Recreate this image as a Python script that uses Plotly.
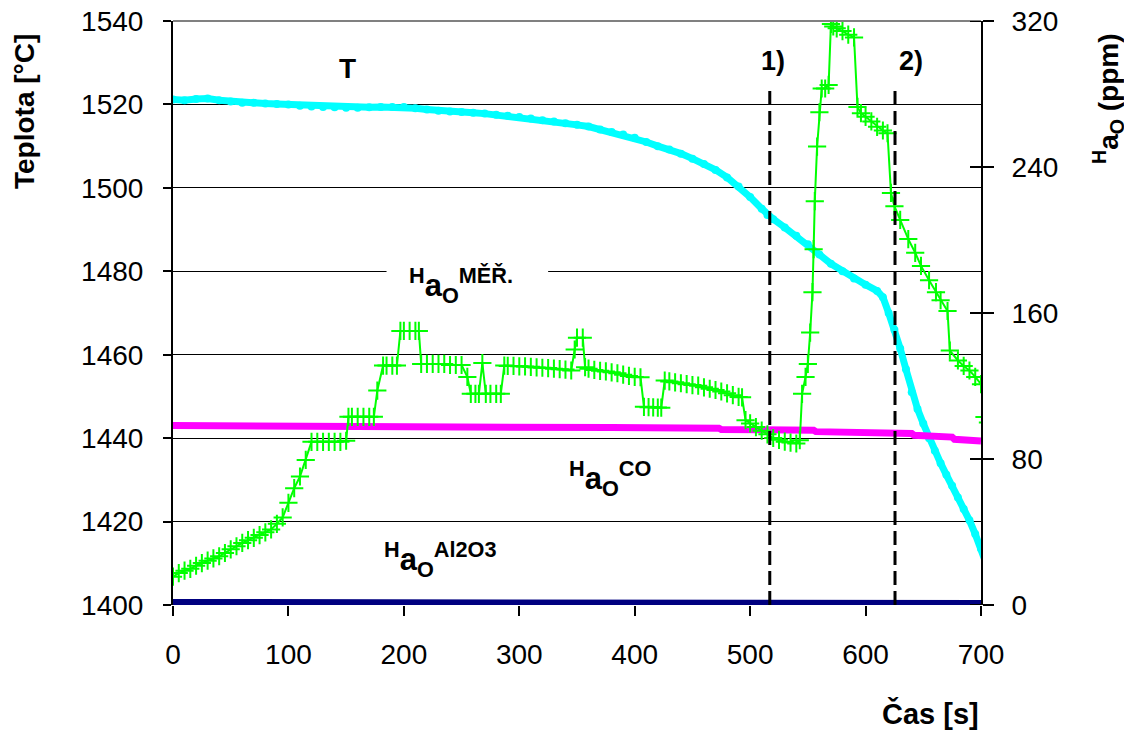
import plotly.graph_objects as go

# ---------------- data ----------------
# Temperature T [°C] (left axis)
t_time = [0, 10, 20, 30, 40, 50, 60, 70, 80, 90, 100, 110, 120, 130, 140, 150, 160, 170, 180, 190,
          200, 210, 220, 230, 240, 250, 260, 270, 280, 290, 300, 310, 320, 330, 340, 350, 360, 370,
          380, 390, 400, 410, 420, 430, 440, 450, 460, 470, 480, 490, 500, 510, 515, 520, 530, 540,
          550, 560, 570, 580, 590, 600, 610, 615, 620, 625, 630, 635, 640, 645, 650, 655, 660, 665,
          670, 675, 680, 685, 690, 695, 700, 704]
t_temp = [1521.2, 1521.0, 1521.3, 1521.4, 1521.0, 1520.7, 1520.4, 1520.4, 1520.2, 1520.1, 1520.0,
          1519.7, 1519.5, 1519.4, 1519.3, 1519.2, 1519.2, 1519.3, 1519.4, 1519.4, 1519.4, 1519.1,
          1518.8, 1518.5, 1518.3, 1518.2, 1518.0, 1517.8, 1517.5, 1517.3, 1517.0, 1516.6, 1516.2,
          1515.9, 1515.5, 1515.1, 1514.7, 1514.0, 1513.4, 1512.8, 1512.0, 1511.0, 1510.0, 1509.2,
          1508.2, 1507.0, 1505.7, 1504.3, 1502.5, 1500.3, 1497.8, 1495.0, 1493.5, 1492.5, 1490.5,
          1488.5, 1486.5, 1484.0, 1481.8, 1480.0, 1478.3, 1476.8, 1475.3, 1473.8, 1470.0, 1466.0,
          1461.5, 1456.5, 1451.0, 1447.0, 1443.5, 1440.0, 1437.0, 1434.0, 1431.2, 1428.6, 1425.8,
          1423.0, 1420.3, 1417.0, 1413.5, 1410.3]

# measured oxygen activity H_aO MĚŘ. [ppm] (right axis)
m_time = [0, 5, 10, 15, 20, 25, 30, 35, 40, 45, 50, 55, 60, 65, 70, 75, 80, 85, 90, 95, 100, 105,
          110, 115, 120, 125, 130, 135, 140, 145, 150, 152, 155, 160, 165, 170, 174, 177, 182, 185,
          190, 194, 197, 200, 205, 210, 213, 215, 220, 225, 230, 235, 240, 245, 250, 255, 258, 262,
          265, 268, 271, 275, 280, 284, 287, 290, 295, 300, 305, 310, 315, 320, 325, 330, 335, 340,
          345, 348, 350, 355, 357, 360, 365, 370, 375, 380, 385, 390, 395, 400, 405, 408, 412, 416,
          420, 423, 426, 430, 435, 440, 445, 450, 455, 460, 465, 470, 475, 480, 485, 490, 493, 496,
          500, 505, 510, 515, 520, 525, 530, 535, 540, 543, 545, 548, 550, 552, 554, 555, 556, 558,
          560, 562, 565, 568, 570, 572, 575, 580, 585, 590, 593, 596, 600, 605, 610, 615, 619, 622,
          625, 630, 637, 643, 648, 655, 661, 665, 671, 673, 680, 685, 690, 695, 700, 703, 706]
m_ppm = [15.5, 17.5, 18.8, 19.8, 21.5, 23.0, 24.3, 25.5, 26.7, 28.5, 30.5, 32.2, 34.0, 35.5, 36.8,
         38.3, 39.8, 41.4, 44.5, 48.0, 56.0, 64.0, 70.4, 79.5, 89.4, 89.4, 89.4, 89.4, 89.4, 89.4,
         90.0, 103.1, 103.1, 103.1, 103.1, 103.1, 103.1, 117.5, 131.2, 131.2, 131.2, 131.2, 150.2,
         150.2, 150.2, 150.2, 150.2, 132.1, 132.1, 132.1, 132.1, 132.1, 131.5, 131.5, 131.5, 125.0,
         115.7, 115.7, 115.7, 132.6, 115.7, 115.7, 115.7, 115.7, 131.2, 131.0, 131.0, 130.8, 130.7,
         130.5, 130.2, 130.0, 129.8, 129.5, 129.2, 129.0, 128.5, 140.0, 146.5, 146.5, 130.3, 129.5,
         128.8, 128.3, 128.0, 127.5, 127.0, 126.2, 125.5, 125.0, 124.8, 108.6, 108.4, 108.3, 108.2,
         108.1, 123.0, 122.5, 122.0, 121.5, 121.0, 120.5, 120.2, 119.3, 118.5, 117.8, 117.0, 116.0,
         115.0, 114.0, 113.8, 101.3, 99.5, 97.5, 95.5, 93.5, 91.5, 90.5, 89.5, 89.0, 88.5, 90.3,
         115.7, 125.0, 132.1, 149.3, 171.4, 195.0, 221.3, 251.2, 270.0, 283.0, 283.0, 285.0, 318.4,
         317.0, 316.0, 314.5, 312.5, 311.0, 272.9, 269.5, 267.5, 265.0, 262.0, 260.0, 258.5, 225.8,
         218.5, 211.0, 200.5, 193.0, 185.8, 178.0, 171.4, 167.0, 161.1, 139.4, 134.0, 131.0, 128.5,
         125.0, 121.0, 103.0, 100.0]

# H_aO CO [ppm]
co_time = [0, 100, 200, 300, 378, 380, 473, 475, 555, 557, 640, 642, 675, 677, 700]
co_ppm = [98.3, 98.2, 98.1, 98.0, 98.0, 97.2, 96.9, 96.2, 95.8, 95.0, 94.0, 93.0, 92.0, 90.8, 89.8]

# H_aO Al2O3 [ppm]
al_time = [0, 330, 505, 507, 625, 627, 700]
al_ppm = [1.4, 1.4, 1.6, 1.1, 1.1, 0.8, 0.8]

# event markers
event_time = [517, 625.5]
event_label = ["1)", "2)"]

x_ticks = [0, 100, 200, 300, 400, 500, 600, 700]
left_ticks = [1400, 1420, 1440, 1460, 1480, 1500, 1520, 1540]
right_ticks = [0, 80, 160, 240, 320]

FONT = "Liberation Sans, Arial, sans-serif"

# page has an 8px body margin -> compensate so the plot area sits at
# screen x 173..981, y 21..605
OFF = 8
L, T_, PW, PH = 173 - OFF, 21 - OFF, 808, 584

fig = go.Figure()

fig.add_trace(go.Scatter(x=al_time, y=al_ppm, yaxis="y2", mode="lines",
                         line=dict(color="#000080", width=7), showlegend=False))
fig.add_trace(go.Scatter(x=co_time, y=co_ppm, yaxis="y2", mode="lines",
                         line=dict(color="#FF00FF", width=7), showlegend=False))
fig.add_trace(go.Scatter(x=t_time, y=t_temp, yaxis="y", mode="lines+markers",
                         line=dict(color="#00FFFF", width=7),
                         marker=dict(symbol="circle", size=8, color="#00FFFF"),
                         showlegend=False))
fig.add_trace(go.Scatter(x=m_time, y=m_ppm, yaxis="y2", mode="lines+markers",
                         line=dict(color="#00FF00", width=2),
                         marker=dict(symbol="cross-thin", size=13,
                                     line=dict(color="#00FF00", width=2)),
                         showlegend=False))

shapes = []
# gap in gridline behind the MĚŘ label
shapes.append(dict(type="rect", xref="x", yref="y", x0=185, x1=325, y0=1478, y1=1482,
                   fillcolor="white", line=dict(width=0), layer="between"))
# top border of plot area
shapes.append(dict(type="line", xref="paper", yref="paper", x0=0, x1=1, y0=1, y1=1,
                   line=dict(color="#808080", width=2), layer="above"))
# dashed event lines
for ev in event_time:
    shapes.append(dict(type="line", xref="x", yref="y", x0=ev, x1=ev, y0=1400, y1=1524,
                       line=dict(color="black", width=3, dash="14px,6px"), layer="above"))
# inner halves of the crossing ticks on the right axis
for v in right_ticks:
    shapes.append(dict(type="line", xref="paper", yref="y2", x0=1 - 11 / PW, x1=1, y0=v, y1=v,
                       line=dict(color="black", width=2), layer="above"))

ann = []
def lab(x, y, text, size=28, xref="x", yref="y", angle=0):
    ann.append(dict(x=x, y=y, xref=xref, yref=yref, text=text, showarrow=False,
                    textangle=angle, xanchor="center", yanchor="middle",
                    font=dict(family=FONT, size=size, color="black")))

lab(151, 1528.5, "<b>T</b>")
lab(249.5, 1476.7, "<b><sup>H</sup>a<sub>O</sub><sup>MĚŘ.</sup></b>", size=31)
lab(378.6, 1430.4, "<b><sup>H</sup>a<sub>O</sub><sup>CO</sup></b>", size=31)
lab(231.3, 1410.8, "<b><sup>H</sup>a<sub>O</sub><sup>Al2O3</sup></b>", size=31)
for ev, txt in zip(event_time, event_label):
    lab(ev + (3 if txt == "1)" else 14), 1530.5, "<b>" + txt + "</b>", size=27)

def px(sx):
    return (sx - 173) / PW
def py(sy):
    return (605 - sy) / PH

lab(px(24), py(112), "<b>Teplota [°C]</b>", size=28, xref="paper", yref="paper", angle=-90)
lab(px(1108), py(99), "<b><sup>H</sup>a<sub>O</sub> (ppm)</b>", size=28,
    xref="paper", yref="paper", angle=-90)
lab(px(930), py(713), "<b>Čas [s]</b>", size=29, xref="paper", yref="paper")

fig.update_layout(
    width=1132, height=731,
    margin=dict(l=L, r=1132 - L - PW, t=T_, b=731 - T_ - PH, autoexpand=False),
    paper_bgcolor="white", plot_bgcolor="white",
    font=dict(family=FONT, size=28, color="black"),
    xaxis=dict(range=[0, 700], tickvals=x_ticks, ticks="outside", ticklen=10, tickwidth=1.5,
               tickcolor="black", showgrid=False, zeroline=False, showline=False,
               automargin=False, ticklabelstandoff=14, ticklabeloverflow="allow",
               tickfont=dict(size=28)),
    yaxis=dict(range=[1400, 1540], tickvals=left_ticks, ticks="outside", ticklen=8,
               tickwidth=1.5, tickcolor="black", showgrid=True, gridcolor="black",
               gridwidth=1, zeroline=False, showline=True, linecolor="black", linewidth=2,
               automargin=False, ticklabelstandoff=14, ticklabeloverflow="allow",
               tickfont=dict(size=28)),
    yaxis2=dict(range=[0, 320], tickvals=right_ticks, overlaying="y", side="right",
                ticks="outside", ticklen=11, tickwidth=2, tickcolor="black", showgrid=False,
                zeroline=False, showline=True, linecolor="black", linewidth=2,
                automargin=False, ticklabelstandoff=12, ticklabeloverflow="allow",
                tickfont=dict(size=28)),
    shapes=shapes, annotations=ann, showlegend=False,
)

fig.write_html("out.html")
